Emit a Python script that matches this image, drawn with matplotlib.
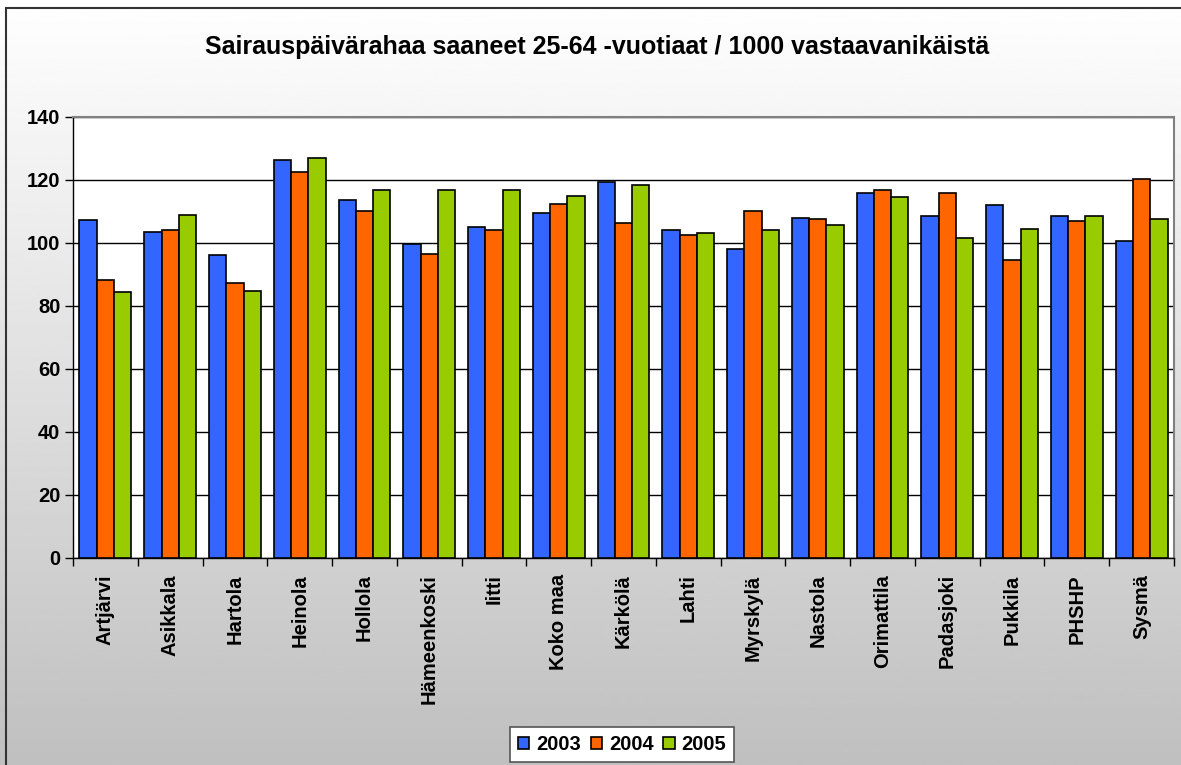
import numpy as np
import matplotlib.pyplot as plt
from matplotlib.patches import Rectangle

plt.rcParams['font.family'] = ['Liberation Sans', 'DejaVu Sans']

kunnat = ['Artjärvi', 'Asikkala', 'Hartola', 'Heinola', 'Hollola', 'Hämeenkoski',
          'Iitti', 'Koko maa', 'Kärkölä', 'Lahti', 'Myrskylä', 'Nastola',
          'Orimattila', 'Padasjoki', 'Pukkila', 'PHSHP', 'Sysmä']
v2003 = [107.1, 103.4, 96.1, 126.3, 113.5, 99.5, 105.0, 109.5, 119.4, 104.0,
         98.1, 108.0, 115.9, 108.4, 111.9, 108.4, 100.5]
v2004 = [88.2, 104.0, 87.1, 122.4, 110.0, 96.5, 104.0, 112.4, 106.4, 102.5,
         110.0, 107.6, 116.8, 115.9, 94.5, 106.9, 120.3]
v2005 = [84.2, 108.9, 84.7, 126.8, 116.8, 116.8, 116.8, 114.8, 118.3, 103.0,
         104.0, 105.5, 114.4, 101.6, 104.5, 108.4, 107.6]
vuodet = ['2003', '2004', '2005']
varit = ['#3366FF', '#FF6600', '#99CC00']

W, H = 1181, 765
fig = plt.figure(figsize=(W / 100, H / 100), dpi=100)

# taustan liukuväri
bg = fig.add_axes([0, 0, 1, 1], zorder=-10)
grad = np.linspace(1.0, 0.75, 256).reshape(-1, 1)
bg.imshow(grad, cmap='gray', vmin=0, vmax=1, aspect='auto', extent=[0, 1, 0, 1])
bg.set_xlim(0, 1)
bg.set_ylim(0, 1)
bg.axis('off')
bg.add_patch(Rectangle((6 / W, -0.05), 1.2, 1 - 8.5 / H + 0.05, fill=False,
                       edgecolor='#333333', linewidth=1.5, transform=bg.transAxes))

ax = fig.add_axes([73 / W, (H - 557.7) / H, 1101 / W, 441 / H])
ax.set_facecolor('white')

x = np.arange(len(kunnat))
w = 0.8 / 3
for k, (vals, lab, c) in enumerate(zip([v2003, v2004, v2005], vuodet, varit)):
    ax.bar(x + (k - 1) * w, vals, width=w, color=c, edgecolor='black',
           linewidth=1.2, label=lab, zorder=3)

ax.set_xlim(-0.5, len(kunnat) - 0.5)
ax.set_ylim(0, 140)
ax.set_yticks(np.arange(0, 141, 20))
ax.yaxis.grid(True, color='black', linewidth=1, zorder=0)
ax.set_axisbelow(True)

fs = 14.5
ax.set_xticks(x)
ax.set_xticklabels(kunnat, rotation=90, fontsize=fs, fontweight='bold')
ax.set_xticks(np.arange(-0.5, len(kunnat), 1), minor=True)
ax.tick_params(axis='x', which='major', length=0, pad=12)
ax.tick_params(axis='x', which='minor', length=6, width=1, direction='out')
ax.tick_params(axis='y', length=6, width=1, direction='out', pad=3)
for t in ax.get_yticklabels():
    t.set_fontsize(fs)
    t.set_fontweight('bold')

for s in ['top', 'right']:
    ax.spines[s].set_color('#808080')
    ax.spines[s].set_linewidth(1.5)
for s in ['left', 'bottom']:
    ax.spines[s].set_color('black')
    ax.spines[s].set_linewidth(1)

fig.text(597 / W, 1 - 47 / H,
         'Sairauspäivärahaa saaneet 25-64 -vuotiaat / 1000 vastaavanikäistä',
         ha='center', va='center', fontsize=18, fontweight='bold')

leg = fig.legend(loc='upper center', bbox_to_anchor=(622 / W, 1 - 727 / H),
                 ncol=3, fancybox=False, framealpha=1, edgecolor='#555555',
                 prop={'weight': 'bold', 'size': fs}, handlelength=0.55,
                 handleheight=0.55, handletextpad=0.35, columnspacing=0.5,
                 borderpad=0.4, borderaxespad=0)
leg.get_frame().set_linewidth(1.2)

fig.savefig('out.png', dpi=100)
